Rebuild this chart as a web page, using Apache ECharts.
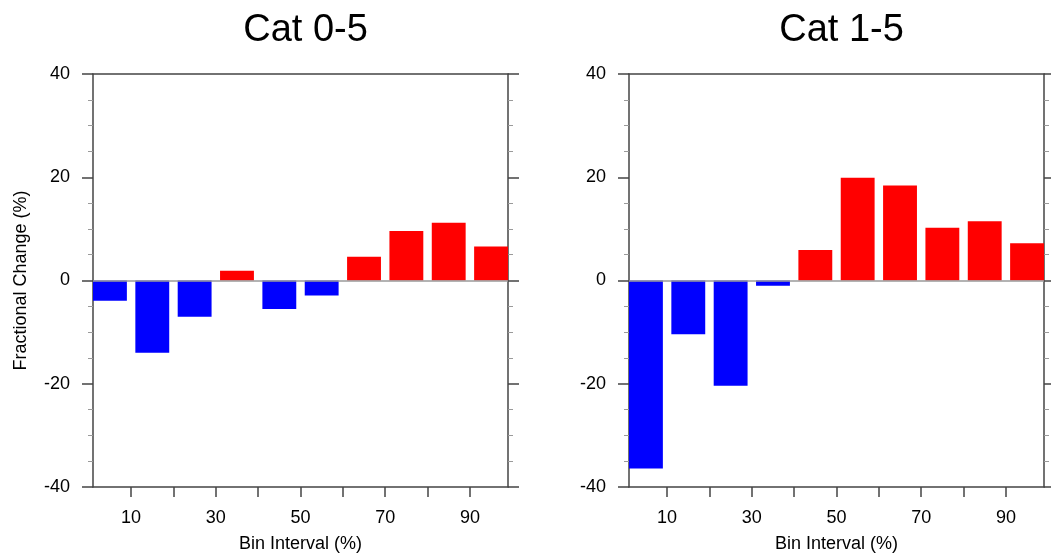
<!DOCTYPE html>
<html>
<head>
<meta charset="utf-8">
<script src="https://cdn.jsdelivr.net/npm/echarts@6/dist/echarts.min.js"></script>
<style>
  html, body { margin: 0; padding: 0; background: #fff; }
  #chart { width: 1051px; height: 558px; }
</style>
</head>
<body>
<div id="chart"></div>
<script>
// Bin centres (%) and fractional change (%) per bin for each category range
const binCenters = [5, 15, 25, 35, 45, 55, 65, 75, 85, 95];
const cat05 = [-3.9, -14.0, -7.0, 1.9, -5.5, -2.9, 4.6, 9.6, 11.2, 6.6];
const cat15 = [-36.4, -10.4, -20.4, -1.0, 5.9, 19.9, 18.4, 10.2, 11.5, 7.2];
const panelTitles = ['Cat 0-5', 'Cat 1-5'];
const xTicks = [10, 20, 30, 40, 50, 60, 70, 80, 90];
const xTickLabels = [10, 30, 50, 70, 90];

const FONT = '"Liberation Sans", Arial, Helvetica, sans-serif';
const AXIS = '#444';
const BAR_HALF = 4; // half bar width in bin units

const chart = echarts.init(document.getElementById('chart'), null, { renderer: 'canvas' });

const grids = [
  { left: 93, top: 74, width: 415, height: 415 },
  { left: 629, top: 74, width: 415, height: 415 }
];

function barRender(params, api) {
  const x = api.value(0), v = api.value(1);
  const a = api.coord([x - BAR_HALF, v]);
  const b = api.coord([x + BAR_HALF, 0]);
  return {
    type: 'rect',
    shape: { x: a[0], y: Math.min(a[1], b[1]), width: b[0] - a[0], height: Math.abs(b[1] - a[1]) },
    style: { fill: v >= 0 ? '#ff0000' : '#0000ff' }
  };
}

const xAxes = [], yAxes = [], series = [], titles = [];
[cat05, cat15].forEach((vals, g) => {
  titles.push({
    text: panelTitles[g],
    left: grids[g].left + grids[g].width / 2,
    top: 7,
    textAlign: 'center',
    textStyle: { fontFamily: FONT, fontSize: 38, fontWeight: 'normal', color: '#000' }
  });
  xAxes.push({
    type: 'value', gridIndex: g, position: 'bottom', min: 1, max: 99,
    name: 'Bin Interval (%)', nameLocation: 'middle', nameGap: 48,
    nameTextStyle: { fontFamily: FONT, fontSize: 18, color: '#000' },
    axisLine: { show: true, onZero: false, lineStyle: { color: AXIS, width: 1.5 } },
    axisTick: { show: true, inside: false, length: 10, customValues: xTicks, lineStyle: { color: AXIS, width: 1.5 } },
    axisLabel: { show: true, margin: 22, customValues: xTickLabels, fontFamily: FONT, fontSize: 18, color: '#000' },
    splitLine: { show: false }
  });
  xAxes.push({
    type: 'value', gridIndex: g, position: 'top', min: 1, max: 99,
    axisLine: { show: true, onZero: false, lineStyle: { color: AXIS, width: 1.5 } },
    axisTick: { show: false }, axisLabel: { show: false }, splitLine: { show: false }
  });
  const yBase = {
    type: 'value', gridIndex: g, min: -40, max: 40, interval: 20,
    axisLine: { show: true, onZero: false, lineStyle: { color: AXIS, width: 1.5 } },
    axisTick: { show: true, inside: false, length: 11, lineStyle: { color: AXIS, width: 1.5 } },
    minorTick: { show: true, splitNumber: 4, length: 5, lineStyle: { color: '#9a9a9a', width: 1 } },
    splitLine: { show: false }
  };
  yAxes.push(Object.assign({}, yBase, {
    position: 'left',
    name: g === 0 ? 'Fractional Change (%)' : '',
    nameLocation: 'middle', nameGap: 63,
    nameTextStyle: { fontFamily: FONT, fontSize: 18, color: '#000' },
    axisLabel: { show: true, margin: 23, fontFamily: FONT, fontSize: 18, color: '#000' }
  }));
  yAxes.push(Object.assign({}, yBase, {
    position: 'right',
    axisLabel: { show: false }
  }));
  series.push({
    type: 'custom',
    xAxisIndex: g * 2,
    yAxisIndex: g * 2,
    data: binCenters.map((c, i) => [c, vals[i]]),
    renderItem: barRender,
    markLine: {
      silent: true, symbol: 'none', label: { show: false },
      lineStyle: { color: '#9a9a9a', width: 1.5, type: 'solid' },
      data: [{ yAxis: 0 }]
    }
  });
});

chart.setOption({
  animation: false,
  backgroundColor: '#fff',
  title: titles,
  grid: grids,
  xAxis: xAxes,
  yAxis: yAxes,
  series: series
});
</script>
</body>
</html>
